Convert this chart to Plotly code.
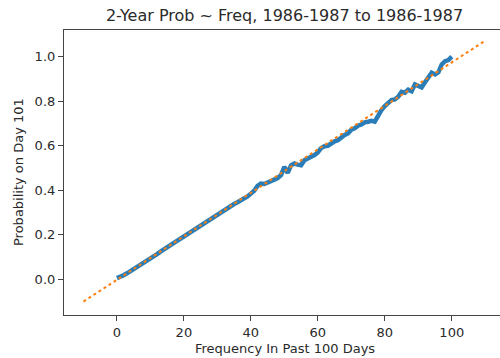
import plotly.graph_objects as go

freq = list(range(0, 101))
prob = [0.005, 0.010, 0.018, 0.027, 0.036, 0.046, 0.055, 0.066, 0.075, 0.086,
        0.095, 0.104, 0.113, 0.124, 0.134, 0.143, 0.151, 0.162, 0.172, 0.183,
        0.193, 0.204, 0.211, 0.220, 0.228, 0.240, 0.251, 0.262, 0.271, 0.282,
        0.292, 0.300, 0.310, 0.318, 0.330, 0.338, 0.346, 0.354, 0.363, 0.372,
        0.385, 0.398, 0.420, 0.430, 0.428, 0.433, 0.440, 0.448, 0.455, 0.468,
        0.505, 0.478, 0.512, 0.520, 0.515, 0.512, 0.535, 0.545, 0.550, 0.558,
        0.570, 0.590, 0.598, 0.600, 0.612, 0.620, 0.625, 0.638, 0.648, 0.655,
        0.672, 0.678, 0.690, 0.695, 0.705, 0.708, 0.712, 0.708, 0.735, 0.760,
        0.778, 0.790, 0.805, 0.808, 0.820, 0.842, 0.838, 0.852, 0.845, 0.875,
        0.868, 0.862, 0.885, 0.910, 0.928, 0.920, 0.930, 0.965, 0.980, 0.985,
        1.000]
fit_x = [-10, 110]
fit_y = [-0.100, 1.072]

x_ticks = [0, 20, 40, 60, 80, 100]
y_ticks = [0.0, 0.2, 0.4, 0.6, 0.8, 1.0]

title = "2-Year Prob ~ Freq, 1986-1987 to 1986-1987"
x_label = "Frequency In Past 100 Days"
y_label = "Probability on Day 101"

FONT = "DejaVu Sans"
TXT = "#2a2a2a"

fig = go.Figure()
fig.add_trace(go.Scatter(x=freq, y=prob, mode="lines",
                         line=dict(color="#1f77b4", width=4.5),
                         opacity=0.95, showlegend=False))
fig.add_trace(go.Scatter(x=fit_x, y=fit_y, mode="lines",
                         line=dict(color="#ff7f0e", width=2, dash="dot"),
                         showlegend=False))

fig.update_layout(
    width=500, height=358,
    margin=dict(l=64, r=0, t=30, b=43),
    paper_bgcolor="white", plot_bgcolor="white",
    font=dict(family=FONT, size=10, color=TXT),
    title=dict(text=title, x=284.5 / 500, xanchor="center",
               y=1 - 15 / 358, yanchor="middle", yref="container",
               font=dict(family=FONT, size=16, color=TXT)),
    annotations=[
        dict(text=x_label, xref="paper", yref="paper",
             x=(284.5 - 64) / 436, y=(315 - 348) / 285,
             xanchor="center", yanchor="middle", showarrow=False,
             font=dict(family=FONT, size=13, color=TXT)),
        dict(text=y_label, xref="paper", yref="paper",
             x=(18 - 64) / 436, y=(315 - 172) / 285, textangle=-90,
             xanchor="center", yanchor="middle", showarrow=False,
             font=dict(family=FONT, size=13, color=TXT)),
    ],
)
fig.update_xaxes(range=[-15.8, 114.4], tickvals=x_ticks,
                 ticktext=[str(v) for v in x_ticks],
                 showgrid=False, zeroline=False, showline=True,
                 linecolor="#444", linewidth=1.2, mirror=True,
                 ticks="outside", ticklen=5, tickcolor="#444",
                 tickfont=dict(family=FONT, size=13, color=TXT))
fig.update_yaxes(range=[-0.1604, 1.1199], tickvals=y_ticks,
                 ticktext=[f"{v:.1f}" for v in y_ticks],
                 showgrid=False, zeroline=False, showline=True,
                 linecolor="#444", linewidth=1.2, mirror=False,
                 ticks="outside", ticklen=5, tickcolor="#444",
                 tickfont=dict(family=FONT, size=13, color=TXT))

fig.write_html("out.html")
